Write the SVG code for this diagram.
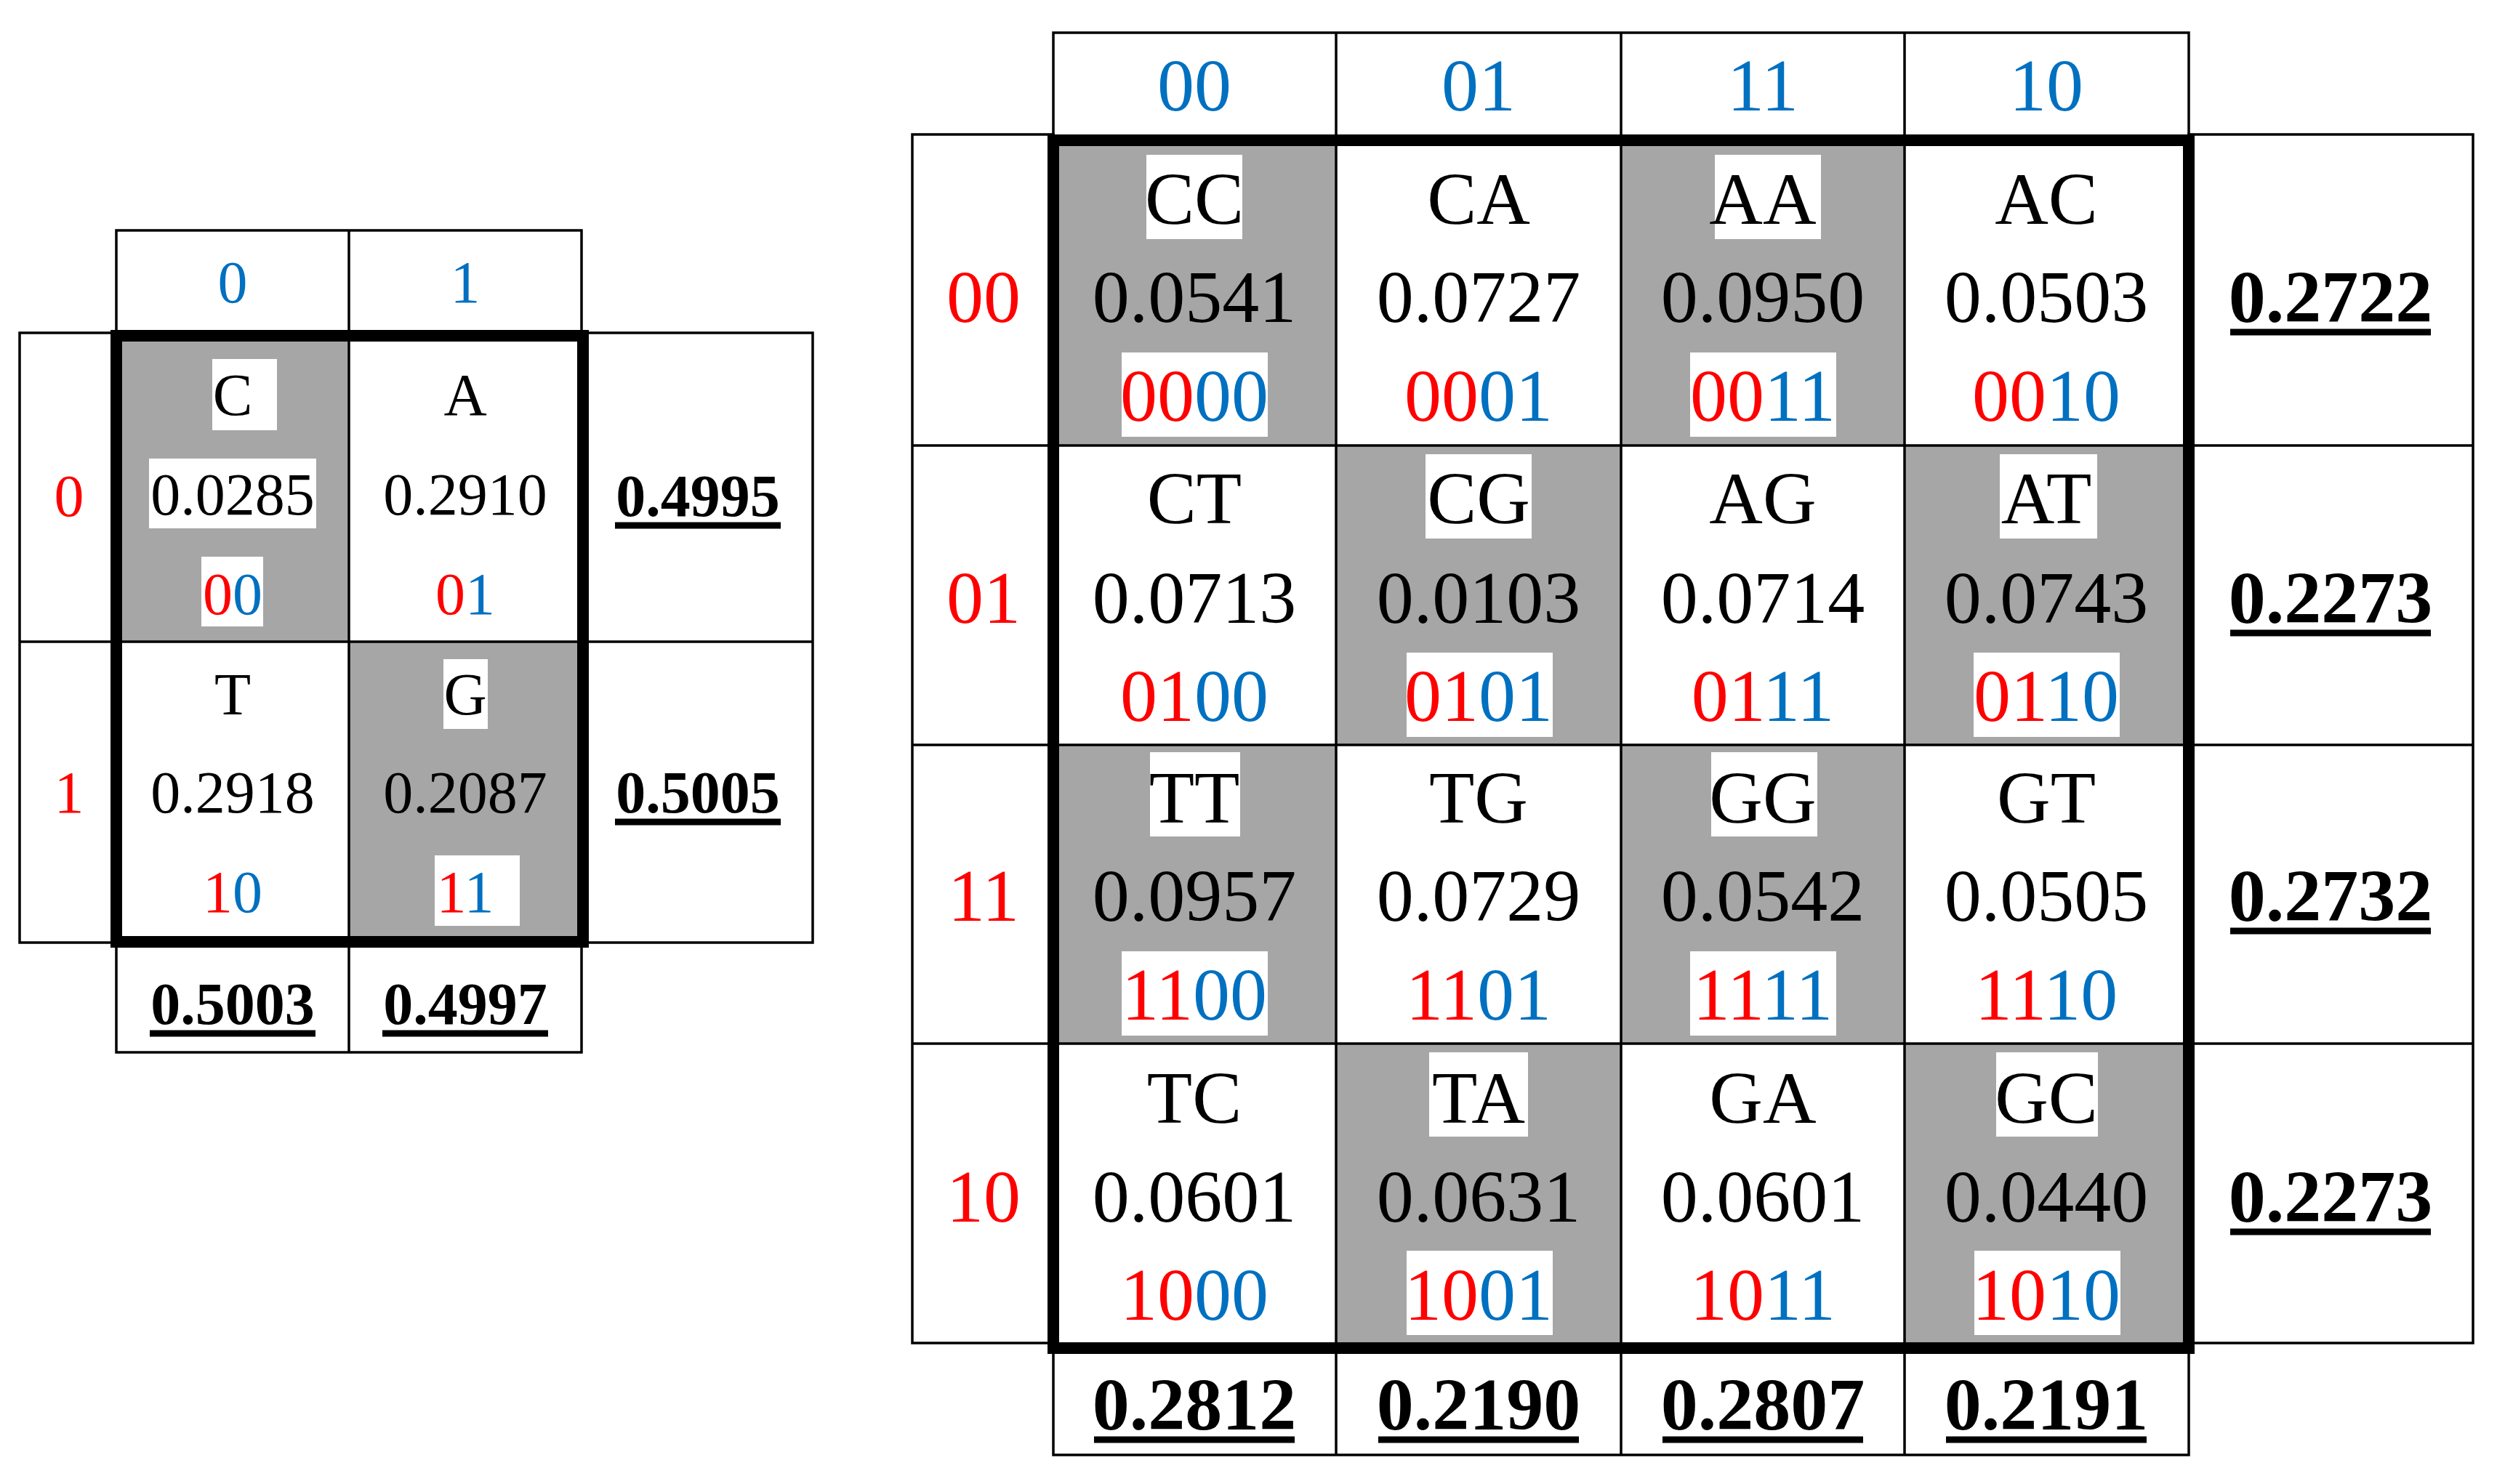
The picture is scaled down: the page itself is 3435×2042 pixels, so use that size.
<svg xmlns="http://www.w3.org/2000/svg" width="3435" height="2042" viewBox="0 0 3435 2042">
<style>
text{font-family:"Liberation Serif","Times New Roman",serif;text-anchor:middle;fill:#000}
.s{font-size:82px}.b{font-size:102px}
.bold{font-weight:bold}
.r{fill:#FF0000}.u{fill:#0070C0}
.g{fill:#A6A6A6}
.w{fill:#fff}
.thin{fill:none;stroke:#000;stroke-width:3.5}
.thick{fill:none;stroke:#000;stroke-width:16}
.ul{stroke:#000;stroke-width:9}
</style>
<rect width="3435" height="2042" fill="#fff"/>
<g id="small-table">
<rect class="g" x="160" y="462" width="320" height="421"/>
<rect class="g" x="480" y="883" width="322" height="413"/>
<rect class="thin" x="160" y="317" width="640" height="145"/>
<line class="thin" x1="480" y1="317" x2="480" y2="1448"/>
<rect class="thin" x="27" y="458" width="133" height="839"/>
<rect class="thin" x="800" y="458" width="318" height="839"/>
<line class="thin" x1="27" y1="883" x2="1118" y2="883"/>
<rect class="thin" x="160" y="1296" width="640" height="152"/>
<rect class="thick" x="160" y="462" width="642" height="834"/>
<text class="s u" x="320" y="416">0</text><text class="s u" x="640" y="416">1</text>
<text class="s r" x="95" y="710">0</text><text class="s r" x="95" y="1118">1</text>
<rect class="w" x="292" y="494" width="89" height="98"/>
<rect class="w" x="205" y="631" width="230" height="96"/>
<rect class="w" x="277" y="766" width="85" height="96"/>
<text class="s" x="320" y="571">C</text><text class="s" x="320" y="708">0.0285</text>
<text class="s" x="320" y="845"><tspan class="r">0</tspan><tspan class="u">0</tspan></text>
<text class="s" x="640" y="571">A</text><text class="s" x="640" y="708">0.2910</text>
<text class="s" x="640" y="845"><tspan class="r">0</tspan><tspan class="u">1</tspan></text>
<text class="s" x="320" y="983">T</text><text class="s" x="320" y="1118">0.2918</text>
<text class="s" x="320" y="1255"><tspan class="r">1</tspan><tspan class="u">0</tspan></text>
<rect class="w" x="610" y="907" width="61" height="96"/>
<rect class="w" x="598" y="1177" width="117" height="97"/>
<text class="s" x="640" y="983">G</text><text class="s" x="640" y="1118">0.2087</text>
<text class="s" x="640" y="1255"><tspan class="r">1</tspan><tspan class="u">1</tspan></text>
<text class="s bold" x="960" y="710">0.4995</text><line class="ul" x1="846" y1="723" x2="1074" y2="723"/>
<text class="s bold" x="960" y="1118">0.5005</text><line class="ul" x1="846" y1="1131" x2="1074" y2="1131"/>
<text class="s bold" x="320" y="1409">0.5003</text><line class="ul" x1="206" y1="1422" x2="434" y2="1422"/>
<text class="s bold" x="640" y="1409">0.4997</text><line class="ul" x1="526" y1="1422" x2="754" y2="1422"/>
</g>
<g id="big-table">
<rect class="g" x="1449" y="193" width="389" height="420"/>
<rect class="g" x="2230" y="193" width="390" height="420"/>
<rect class="g" x="1838" y="613" width="392" height="412"/>
<rect class="g" x="2620" y="613" width="391" height="412"/>
<rect class="g" x="1449" y="1025" width="389" height="411"/>
<rect class="g" x="2230" y="1025" width="390" height="411"/>
<rect class="g" x="1838" y="1436" width="392" height="419"/>
<rect class="g" x="2620" y="1436" width="391" height="419"/>
<rect class="thin" x="1449" y="45" width="1562" height="148"/>
<line class="thin" x1="1838" y1="45" x2="1838" y2="2002"/>
<line class="thin" x1="2230" y1="45" x2="2230" y2="2002"/>
<line class="thin" x1="2620" y1="45" x2="2620" y2="2002"/>
<rect class="thin" x="1255" y="185" width="194" height="1663"/>
<rect class="thin" x="3011" y="185" width="391" height="1663"/>
<line class="thin" x1="1255" y1="613" x2="3402" y2="613"/>
<line class="thin" x1="1255" y1="1025" x2="3402" y2="1025"/>
<line class="thin" x1="1255" y1="1436" x2="3402" y2="1436"/>
<rect class="thin" x="1449" y="1855" width="1562" height="147"/>
<rect class="thick" x="1449" y="193" width="1562" height="1662"/>
<text class="b u" x="1643" y="152">00</text><text class="b u" x="2034" y="152">01</text>
<text class="b u" x="2425" y="152">11</text><text class="b u" x="2815" y="152">10</text>
<text class="b r" x="1353" y="443">00</text><text class="b r" x="1353" y="857">01</text>
<text class="b r" x="1353" y="1267">11</text><text class="b r" x="1353" y="1681">10</text>
<!-- white boxes -->
<rect class="w" x="1577" y="213" width="132" height="116"/><rect class="w" x="1543" y="485" width="201" height="116"/>
<rect class="w" x="2359" y="213" width="146" height="116"/><rect class="w" x="2325" y="485" width="201" height="116"/>
<rect class="w" x="1961" y="625" width="146" height="116"/><rect class="w" x="1935" y="898" width="201" height="116"/>
<rect class="w" x="2751" y="625" width="134" height="116"/><rect class="w" x="2715" y="898" width="201" height="116"/>
<rect class="w" x="1582" y="1035" width="124" height="116"/><rect class="w" x="1543" y="1309" width="201" height="116"/>
<rect class="w" x="2354" y="1035" width="146" height="116"/><rect class="w" x="2325" y="1309" width="201" height="116"/>
<rect class="w" x="1966" y="1448" width="136" height="116"/><rect class="w" x="1935" y="1721" width="201" height="116"/>
<rect class="w" x="2746" y="1448" width="140" height="116"/><rect class="w" x="2716" y="1721" width="201" height="116"/>
<!-- row 00 -->
<text class="b" x="1643" y="308">CC</text><text class="b" x="1643" y="443">0.0541</text><text class="b" x="1643" y="579"><tspan class="r">00</tspan><tspan class="u">00</tspan></text>
<text class="b" x="2034" y="308">CA</text><text class="b" x="2034" y="443">0.0727</text><text class="b" x="2034" y="579"><tspan class="r">00</tspan><tspan class="u">01</tspan></text>
<text class="b" x="2425" y="308">AA</text><text class="b" x="2425" y="443">0.0950</text><text class="b" x="2425" y="579"><tspan class="r">00</tspan><tspan class="u">11</tspan></text>
<text class="b" x="2815" y="308">AC</text><text class="b" x="2815" y="443">0.0503</text><text class="b" x="2815" y="579"><tspan class="r">00</tspan><tspan class="u">10</tspan></text>
<!-- row 01 -->
<text class="b" x="1643" y="720">CT</text><text class="b" x="1643" y="857">0.0713</text><text class="b" x="1643" y="992"><tspan class="r">01</tspan><tspan class="u">00</tspan></text>
<text class="b" x="2034" y="720">CG</text><text class="b" x="2034" y="857">0.0103</text><text class="b" x="2034" y="992"><tspan class="r">01</tspan><tspan class="u">01</tspan></text>
<text class="b" x="2425" y="720">AG</text><text class="b" x="2425" y="857">0.0714</text><text class="b" x="2425" y="992"><tspan class="r">01</tspan><tspan class="u">11</tspan></text>
<text class="b" x="2815" y="720">AT</text><text class="b" x="2815" y="857">0.0743</text><text class="b" x="2815" y="992"><tspan class="r">01</tspan><tspan class="u">10</tspan></text>
<!-- row 11 -->
<text class="b" x="1643" y="1132">TT</text><text class="b" x="1643" y="1267">0.0957</text><text class="b" x="1643" y="1403"><tspan class="r">11</tspan><tspan class="u">00</tspan></text>
<text class="b" x="2034" y="1132">TG</text><text class="b" x="2034" y="1267">0.0729</text><text class="b" x="2034" y="1403"><tspan class="r">11</tspan><tspan class="u">01</tspan></text>
<text class="b" x="2425" y="1132">GG</text><text class="b" x="2425" y="1267">0.0542</text><text class="b" x="2425" y="1403"><tspan class="r">11</tspan><tspan class="u">11</tspan></text>
<text class="b" x="2815" y="1132">GT</text><text class="b" x="2815" y="1267">0.0505</text><text class="b" x="2815" y="1403"><tspan class="r">11</tspan><tspan class="u">10</tspan></text>
<!-- row 10 -->
<text class="b" x="1643" y="1545">TC</text><text class="b" x="1643" y="1681">0.0601</text><text class="b" x="1643" y="1816"><tspan class="r">10</tspan><tspan class="u">00</tspan></text>
<text class="b" x="2034" y="1545">TA</text><text class="b" x="2034" y="1681">0.0631</text><text class="b" x="2034" y="1816"><tspan class="r">10</tspan><tspan class="u">01</tspan></text>
<text class="b" x="2425" y="1545">GA</text><text class="b" x="2425" y="1681">0.0601</text><text class="b" x="2425" y="1816"><tspan class="r">10</tspan><tspan class="u">11</tspan></text>
<text class="b" x="2815" y="1545">GC</text><text class="b" x="2815" y="1681">0.0440</text><text class="b" x="2815" y="1816"><tspan class="r">10</tspan><tspan class="u">10</tspan></text>
<!-- totals -->
<text class="b bold" x="3206" y="443">0.2722</text><line class="ul" x1="3068" y1="457" x2="3344" y2="457"/>
<text class="b bold" x="3206" y="857">0.2273</text><line class="ul" x1="3068" y1="871" x2="3344" y2="871"/>
<text class="b bold" x="3206" y="1267">0.2732</text><line class="ul" x1="3068" y1="1281" x2="3344" y2="1281"/>
<text class="b bold" x="3206" y="1681">0.2273</text><line class="ul" x1="3068" y1="1695" x2="3344" y2="1695"/>
<text class="b bold" x="1643" y="1967">0.2812</text><line class="ul" x1="1505" y1="1981" x2="1781" y2="1981"/>
<text class="b bold" x="2034" y="1967">0.2190</text><line class="ul" x1="1896" y1="1981" x2="2172" y2="1981"/>
<text class="b bold" x="2425" y="1967">0.2807</text><line class="ul" x1="2287" y1="1981" x2="2563" y2="1981"/>
<text class="b bold" x="2815" y="1967">0.2191</text><line class="ul" x1="2677" y1="1981" x2="2953" y2="1981"/>
</g>
</svg>
